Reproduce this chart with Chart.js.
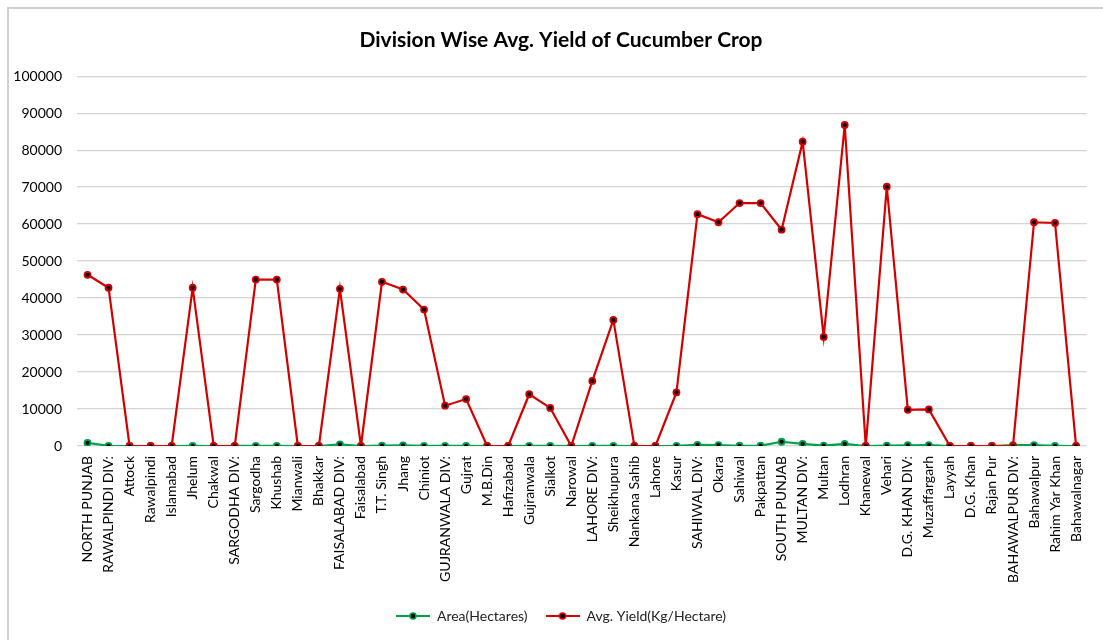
<!DOCTYPE html>
<html>
<head>
<meta charset="utf-8">
<script src="https://cdn.jsdelivr.net/npm/chart.js"></script>
<style>
  html, body { margin: 0; padding: 0; background: #fff; }
  #wrap { position: relative; width: 1103px; height: 640px; }
  #frame { position: absolute; left: 7px; top: 7px; right: 0; bottom: 0;
           border-left: 2px solid #d0d0d0; border-top: 2px solid #d0d0d0; pointer-events: none; }
  canvas { position: absolute; left: 0; top: 0; }
</style>
</head>
<body>
<div id="wrap">
  <canvas id="c" width="1103" height="640"></canvas>
  <div id="frame"></div>
</div>
<script>
const categories = [
  "NORTH PUNJAB", "RAWALPINDI DIV:", "Attock", "Rawalpindi", "Islamabad", "Jhelum", "Chakwal",
  "SARGODHA DIV:", "Sargodha", "Khushab", "Mianwali", "Bhakkar",
  "FAISALABAD DIV:", "Faisalabad", "T.T. Singh", "Jhang", "Chiniot",
  "GUJRANWALA DIV:", "Gujrat", "M.B.Din", "Hafizabad", "Gujranwala", "Sialkot", "Narowal",
  "LAHORE DIV:", "Sheikhupura", "Nankana Sahib", "Lahore", "Kasur",
  "SAHIWAL DIV:", "Okara", "Sahiwal", "Pakpattan",
  "SOUTH PUNJAB", "MULTAN DIV:", "Multan", "Lodhran", "Khanewal", "Vehari",
  "D.G. KHAN DIV:", "Muzaffargarh", "Layyah", "D.G. Khan", "Rajan Pur",
  "BAHAWALPUR DIV:", "Bahawalpur", "Rahim Yar Khan", "Bahawalnagar"
];

const areaHectares = [
  850, 60, 0, 0, 0, 30, 0,
  40, 30, 20, 0, 0,
  450, 0, 100, 180, 40,
  60, 40, 0, 0, 50, 40, 0,
  60, 30, 0, 0, 60,
  320, 250, 70, 90,
  1150, 600, 80, 550, 0, 90,
  200, 260, 0, 0, 0,
  250, 240, 60, 0
];

const avgYield = [
  46300, 42800, 0, 0, 0, 42800, 0,
  0, 45000, 45000, 0, 0,
  42500, 0, 44400, 42300, 36900,
  10900, 12700, 0, 0, 14000, 10300, 0,
  17600, 34100, 0, 0, 14500,
  62700, 60500, 65700, 65700,
  58500, 82300, 29500, 86800, 0, 70100,
  9800, 9900, 0, 0, 0,
  0, 60500, 60300, 0
];

const yTicks = [0, 10000, 20000, 30000, 40000, 50000, 60000, 70000, 80000, 90000, 100000];

const GREEN = '#00a04a';
const RED = '#d40000';
const FONT = 'Lato';

function legendGlyph(color) {
  const cv = document.createElement('canvas');
  cv.width = 34; cv.height = 10;
  const g = cv.getContext('2d');
  g.strokeStyle = color; g.lineWidth = 2;
  g.beginPath(); g.moveTo(0, 5); g.lineTo(34, 5); g.stroke();
  g.fillStyle = '#000'; g.beginPath(); g.arc(17, 5, 3, 0, Math.PI * 2); g.fill();
  g.strokeStyle = color; g.lineWidth = 1.5; g.stroke();
  return cv;
}
const glyphs = [legendGlyph(GREEN), legendGlyph(RED)];

new Chart(document.getElementById('c'), {
  type: 'line',
  data: {
    labels: categories,
    datasets: [
      {
        label: 'Area(Hectares)',
        data: areaHectares,
        borderColor: GREEN,
        backgroundColor: '#000',
        pointBackgroundColor: '#000',
        pointBorderColor: GREEN,
        borderWidth: 2.2,
        pointRadius: 3,
        pointBorderWidth: 1.8,
        tension: 0,
        order: 2
      },
      {
        label: 'Avg. Yield(Kg/Hectare)',
        data: avgYield,
        borderColor: RED,
        backgroundColor: '#000',
        pointBackgroundColor: '#000',
        pointBorderColor: RED,
        borderWidth: 2.2,
        pointRadius: 3,
        pointBorderWidth: 1.8,
        tension: 0,
        order: 1
      }
    ]
  },
  options: {
    responsive: false,
    animation: false,
    layout: { padding: { left: 8, right: -11, top: 0, bottom: 7 } },
    plugins: {
      tooltip: { enabled: false },
      title: {
        display: true,
        text: 'Division Wise Avg. Yield of Cucumber Crop',
        color: '#000',
        font: { family: FONT, size: 21, weight: 'bold', lineHeight: 1.2 },
        padding: { top: 28, bottom: 23 }
      },
      legend: {
        position: 'bottom',
        labels: {
          usePointStyle: true,
          pointStyleWidth: 34,
          boxHeight: 10,
          padding: 18,
          color: '#222',
          font: { family: FONT, size: 14 },
          sort: (a, b) => a.datasetIndex - b.datasetIndex,
          generateLabels: (chart) => {
            const items = Chart.defaults.plugins.legend.labels.generateLabels(chart);
            items.forEach(it => { it.pointStyle = glyphs[it.datasetIndex]; });
            return items;
          }
        }
      }
    },
    scales: {
      x: {
        offset: true,
        grid: { display: false, drawTicks: false },
        border: { display: false },
        ticks: {
          autoSkip: false,
          minRotation: 90,
          maxRotation: 90,
          padding: 10,
          color: '#000',
          font: { family: FONT, size: 14 }
        },
        afterFit: (s) => { s.height = 145; }
      },
      y: {
        min: 0,
        max: 100000,
        afterBuildTicks: (s) => { s.ticks = yTicks.map(v => ({ value: v })); },
        grid: { color: '#d4d4d4', lineWidth: 1.3, drawTicks: false },
        border: { display: false },
        ticks: {
          padding: 15,
          color: '#000',
          font: { family: FONT, size: 14 },
          callback: (v) => String(v)
        },
        afterFit: (s) => { s.width = 69; }
      },
      ySpacer: {
        position: 'right',
        min: 0,
        max: 1,
        grid: { display: false, drawTicks: false },
        border: { display: false },
        ticks: { display: false },
        afterFit: (s) => { s.width = 22; }
      }
    }
  }
});
</script>
</body>
</html>
